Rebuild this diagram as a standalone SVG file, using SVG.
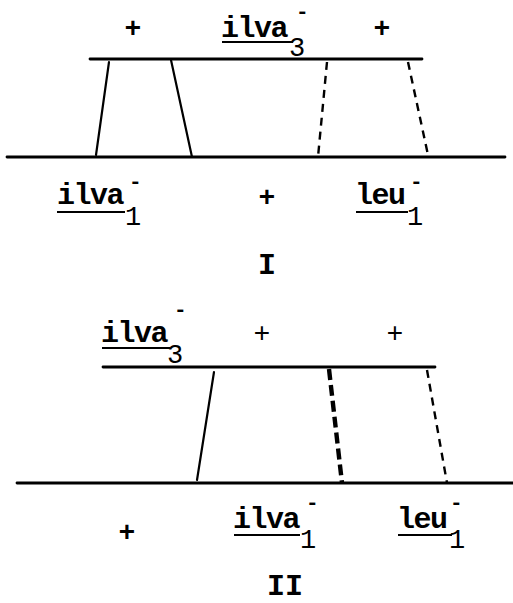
<svg xmlns="http://www.w3.org/2000/svg" width="513" height="603" viewBox="0 0 513 603">
<style>
.bg{fill:#fff}
.ln{stroke:#000;stroke-width:2.8;fill:none;stroke-linecap:round}
.cr{stroke:#000;stroke-width:2.2;fill:none;stroke-linecap:round}
.ds{stroke:#000;stroke-width:2.4;fill:none;stroke-dasharray:8 6}
.tk{stroke:#000;stroke-width:4.4;fill:none;stroke-dasharray:11 5}
.ul{stroke:#000;stroke-width:2.2;fill:none}
.t{font-family:"Liberation Mono","DejaVu Sans Mono",monospace;font-weight:bold;font-size:30px;letter-spacing:-1.5px;fill:#000}
.p{font-family:"Liberation Mono","DejaVu Sans Mono",monospace;font-weight:bold;font-size:28px;fill:#000;text-anchor:middle}
.q{font-family:"Liberation Mono","DejaVu Sans Mono",monospace;font-size:28px;fill:#000;text-anchor:middle}
.s{font-weight:normal;font-size:27px;letter-spacing:0}
.m{font-weight:bold;font-size:21px;letter-spacing:0}
.r{font-family:"Liberation Mono","DejaVu Sans Mono",monospace;font-weight:bold;font-size:30px;fill:#000;text-anchor:middle}
</style>
<rect class="bg" width="513" height="603"/>
<g id="panel-I">
  <g id="I-chromosomes">
    <line class="ln" x1="90" y1="59" x2="422" y2="59"/>
    <line class="ln" x1="7" y1="157" x2="505" y2="157"/>
  </g>
  <g id="I-connectors">
    <line class="cr" x1="109" y1="62" x2="96" y2="155"/>
    <line class="cr" x1="171" y1="60" x2="192" y2="157"/>
    <line class="ds" x1="327" y1="62" x2="318" y2="157"/>
    <line class="ds" x1="408" y1="62" x2="428" y2="155"/>
  </g>
  <g id="I-labels">
    <text class="p" x="133" y="37">+</text>
    <text class="t" x="221" y="37">ilva<tspan class="s" x="289" y="56">3</tspan><tspan class="m" x="296" y="18">-</tspan></text>
    <line class="ul" x1="222" y1="42" x2="293" y2="42"/>
    <text class="p" x="382" y="37">+</text>
    <text class="t" x="57" y="204">ilva<tspan class="s" x="125" y="225">1</tspan><tspan class="m" x="129" y="188">-</tspan></text>
    <line class="ul" x1="57" y1="212" x2="125" y2="212"/>
    <text class="p" x="267" y="206">+</text>
    <text class="t" x="355" y="204">leu<tspan class="s" x="407" y="225">1</tspan><tspan class="m" x="410" y="188">-</tspan></text>
    <line class="ul" x1="356" y1="212" x2="408" y2="212"/>
    <text class="r" x="267" y="274">I</text>
  </g>
</g>
<g id="panel-II">
  <g id="II-chromosomes">
    <line class="ln" x1="103" y1="367" x2="435" y2="367"/>
    <line class="ln" x1="17" y1="483" x2="513" y2="483"/>
  </g>
  <g id="II-connectors">
    <line class="cr" x1="214" y1="372" x2="197" y2="480"/>
    <line class="tk" x1="329" y1="369" x2="342" y2="483"/>
    <line class="ds" x1="427" y1="370" x2="447" y2="483"/>
  </g>
  <g id="II-labels">
    <text class="t" x="101" y="342">ilva<tspan class="s" x="167" y="363">3</tspan><tspan class="m" x="174" y="316">-</tspan></text>
    <line class="ul" x1="102" y1="348" x2="170" y2="348"/>
    <text class="q" x="262" y="342">+</text>
    <text class="q" x="395" y="342">+</text>
    <text class="p" x="127" y="541">+</text>
    <text class="t" x="233" y="528">ilva<tspan class="s" x="300" y="548">1</tspan><tspan class="m" x="306" y="509">-</tspan></text>
    <line class="ul" x1="234" y1="535" x2="300" y2="535"/>
    <text class="t" x="397" y="528">leu<tspan class="s" x="449" y="548">1</tspan><tspan class="m" x="450" y="509">-</tspan></text>
    <line class="ul" x1="398" y1="535" x2="452" y2="535"/>
    <text class="r" x="285" y="595">II</text>
  </g>
</g>
</svg>
